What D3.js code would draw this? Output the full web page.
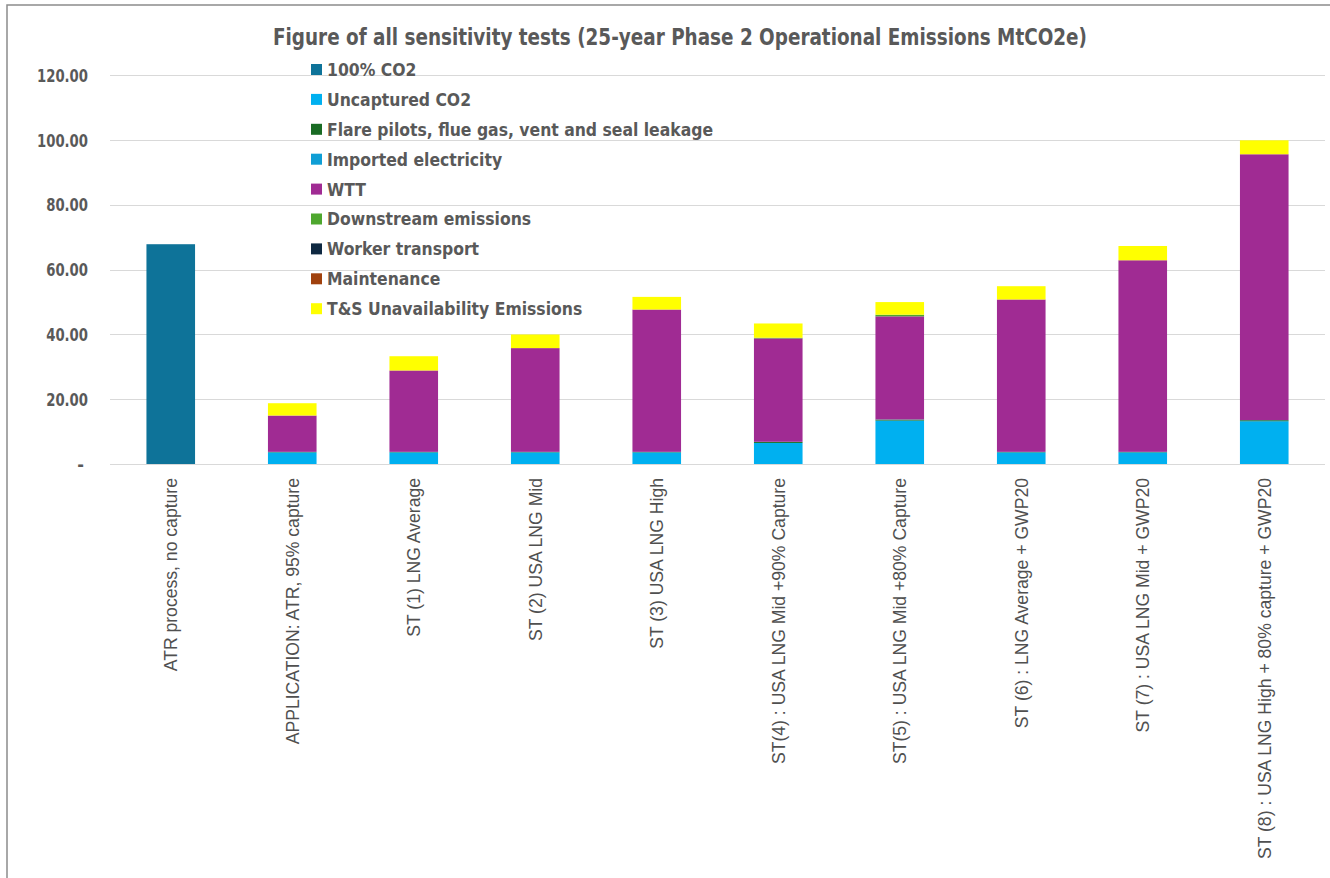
<!DOCTYPE html>
<html>
<head>
<meta charset="utf-8">
<script src="https://cdn.jsdelivr.net/npm/d3@7"></script>
<style>
  html, body { margin: 0; padding: 0; background: #ffffff; }
  svg { display: block; }
</style>
</head>
<body>
<svg id="chart" width="1330" height="878"></svg>
<script>
// ---------------- DATA ----------------
const categories = [
  "ATR process, no capture",
  "APPLICATION: ATR, 95% capture",
  "ST (1) LNG Average",
  "ST (2) USA LNG Mid",
  "ST (3) USA LNG High",
  "ST(4) : USA LNG Mid +90% Capture",
  "ST(5) : USA LNG Mid +80% Capture",
  "ST (6) : LNG Average + GWP20",
  "ST (7) : USA LNG Mid + GWP20",
  "ST (8) : USA LNG High + 80% capture + GWP20"
];
const seriesNames = [
  "100% CO2",
  "Uncaptured CO2",
  "Flare pilots, flue gas, vent and seal leakage",
  "Imported electricity",
  "WTT",
  "Downstream emissions",
  "Worker transport",
  "Maintenance",
  "T&S Unavailability Emissions"
];
const co2Full        = [67.8, 0, 0, 0, 0, 0, 0, 0, 0, 0];
const uncapturedCO2  = [0, 3.6, 3.6, 3.6, 3.6, 6.5, 13.4, 3.6, 3.6, 13.2];
const flarePilots    = [0, 0.1, 0.1, 0.1, 0.1, 0.3, 0.3, 0.1, 0.1, 0.3];
const importedElec   = [0, 0.05, 0.05, 0.05, 0.05, 0.05, 0.05, 0.05, 0.05, 0.05];
const wtt            = [0, 11.2, 25.1, 32.0, 43.9, 31.9, 31.8, 47.0, 59.1, 82.0];
const downstream     = [0, 0, 0, 0, 0, 0.2, 0.5, 0, 0, 0];
const workerTransport= [0, 0, 0, 0, 0, 0, 0, 0, 0, 0];
const maintenance    = [0, 0, 0, 0, 0, 0, 0, 0, 0, 0];
const tsUnavail      = [0, 3.8, 4.4, 4.2, 3.9, 4.4, 3.9, 4.1, 4.4, 4.3];
const yTicks = [0, 20, 40, 60, 80, 100, 120];
const titleText = "Figure of all sensitivity tests (25-year Phase 2 Operational Emissions MtCO2e)";

const seriesValues = [co2Full, uncapturedCO2, flarePilots, importedElec, wtt,
                      downstream, workerTransport, maintenance, tsUnavail];
const seriesColors = ["#0e7399", "#00b0f0", "#196b24", "#0f9ed5", "#a02b93",
                      "#4ea72e", "#0e2841", "#a0410d", "#ffff00"];

// ---------------- LAYOUT ----------------
const svg = d3.select("#chart");
const narrow = "'Liberation Sans Narrow', 'DejaVu Sans Condensed', 'Roboto Condensed', Roboto, sans-serif";
const txt = "#595959";

// chart border
svg.append("rect").attr("x", 7).attr("y", 5).attr("width", 1340).attr("height", 900)
  .attr("fill", "#fff").attr("stroke", "#8c8c8c").attr("stroke-width", 1.5);

const x = d3.scaleBand().domain(categories).range([110, 1325])
  .paddingInner(0.6).paddingOuter(0.3);
const y = d3.scaleLinear().domain([0, 120]).range([464, 75]);

// gridlines
svg.append("g").selectAll("line").data(yTicks).join("line")
  .attr("x1", 110).attr("x2", 1325)
  .attr("y1", d => Math.round(y(d)) + 0.5).attr("y2", d => Math.round(y(d)) + 0.5)
  .attr("stroke", "#d9d9d9").attr("stroke-width", 1.2);

// y axis labels
const yAxis = svg.append("g").attr("transform", "translate(88,0)")
  .call(d3.axisLeft(y).tickValues(yTicks).tickSize(0).tickPadding(0)
    .tickFormat(d => d === 0 ? "-" : d3.format(".2f")(d)));
yAxis.select(".domain").remove();
yAxis.selectAll("text").attr("fill", txt).attr("font-family", narrow)
  .attr("font-weight", "bold").attr("font-size", 18).attr("dy", "0.35em");
yAxis.selectAll(".tick").filter(d => d === 0).select("text").attr("x", -4);

// stacked data
const rows = categories.map((c, i) => {
  const o = { cat: c };
  seriesNames.forEach((s, j) => o[s] = seriesValues[j][i]);
  return o;
});
const stacked = d3.stack().keys(seriesNames)(rows);

svg.append("g").selectAll("g").data(stacked).join("g")
  .attr("fill", (d, i) => seriesColors[i])
  .selectAll("rect").data(d => d).join("rect")
  .attr("x", d => x(d.data.cat))
  .attr("width", x.bandwidth())
  .attr("y", d => y(d[1]))
  .attr("height", d => Math.max(0, y(d[0]) - y(d[1])));

// x labels (rotated)
const xl = svg.append("g").selectAll("text").data(categories).join("text")
  .attr("transform", d => `translate(${x(d) + x.bandwidth() / 2},478) rotate(-90)`)
  .attr("text-anchor", "end").attr("dy", "0.36em")
  .attr("fill", "#505050").attr("font-family", "'Liberation Sans', Arial, sans-serif")
  .attr("font-size", 17.6).text(d => d);

// title
const title = svg.append("text").attr("x", 680).attr("y", 45).attr("text-anchor", "middle")
  .attr("fill", txt).attr("font-family", narrow).attr("font-weight", "bold")
  .attr("font-size", 23).text(titleText);

// legend
const lg = svg.append("g").selectAll("g").data(seriesNames).join("g")
  .attr("transform", (d, i) => `translate(311,${69.5 + i * 29.9})`);
lg.append("rect").attr("x", 0).attr("y", -5.5).attr("width", 11).attr("height", 11)
  .attr("fill", (d, i) => seriesColors[i]);
const lt = lg.append("text").attr("x", 16).attr("dy", "0.36em")
  .attr("fill", txt).attr("font-family", narrow).attr("font-weight", "bold")
  .attr("font-size", 18).text(d => d);

// fit text widths to the reference proportions
function fitGroup(sel, refIndex, target) {
  const nodes = sel.nodes();
  const ref = nodes[refIndex].getComputedTextLength();
  if (!ref) return;
  const r = target / ref;
  nodes.forEach(n => {
    const l = n.getComputedTextLength();
    d3.select(n).attr("textLength", l * r).attr("lengthAdjust", "spacingAndGlyphs");
  });
}
fitGroup(title, 0, 814);
fitGroup(lt, 2, 386);
fitGroup(yAxis.selectAll(".tick text").filter(d => d !== 0), 5, 51);
</script>
</body>
</html>
